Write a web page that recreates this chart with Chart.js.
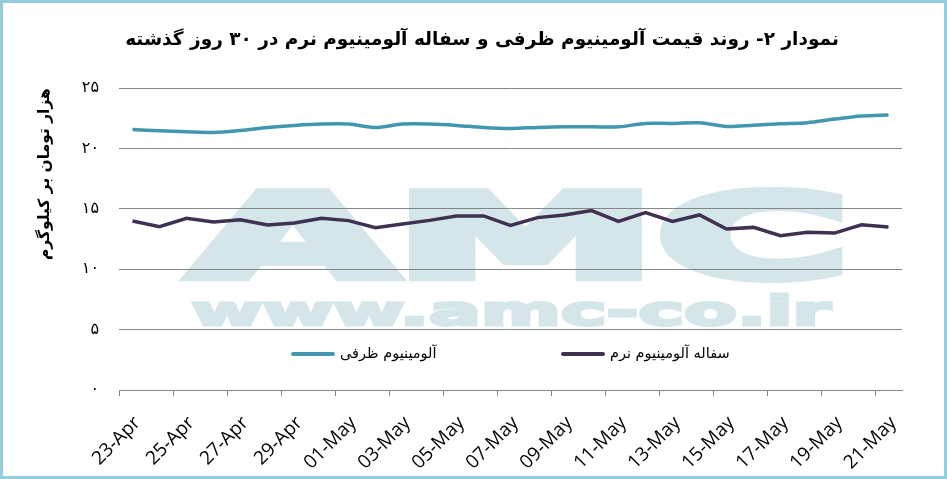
<!DOCTYPE html>
<html lang="fa">
<head>
<meta charset="UTF-8">
<title>روند قیمت آلومینیوم</title>
<script src="https://cdn.jsdelivr.net/npm/chart.js"></script>
<style>
    html, body { margin: 0; padding: 0; background: #fff; }
    .frame {
        width: 947px;
        height: 479px;
        box-sizing: border-box;
        border: 3px solid #93cddd;
        background: #fff;
    }
    .frame canvas { display: block; }
</style>
</head>
<body>
<div class="frame"><canvas id="priceChart" width="941" height="473"></canvas></div>
<script>
const dates = ['23-Apr', '24-Apr', '25-Apr', '26-Apr', '27-Apr', '28-Apr', '29-Apr', '30-Apr',
    '01-May', '02-May', '03-May', '04-May', '05-May', '06-May', '07-May', '08-May', '09-May',
    '10-May', '11-May', '12-May', '13-May', '14-May', '15-May', '16-May', '17-May', '18-May',
    '19-May', '20-May', '21-May'];

// آلومینیوم ظرفی
const zarfi = [21.58, 21.47, 21.39, 21.33, 21.5, 21.75, 21.92, 22.03, 22.03, 21.75, 22.03, 22.03,
    21.92, 21.75, 21.67, 21.75, 21.8, 21.8, 21.8, 22.08, 22.08, 22.14, 21.83, 21.94, 22.05, 22.14,
    22.44, 22.69, 22.78];

// سفاله آلومینیوم نرم
const sofale = [14.0, 13.53, 14.22, 13.92, 14.11, 13.67, 13.83, 14.22, 14.03, 13.44, 13.75, 14.05,
    14.42, 14.42, 13.64, 14.28, 14.5, 14.86, 13.97, 14.69, 13.97, 14.5, 13.33, 13.47, 12.78, 13.06,
    13.0, 13.69, 13.5];

const yTickLabels = ['۰', '۵', '۱۰', '۱۵', '۲۰', '۲۵'];

const seriesNames = ['آلومینیوم ظرفی', 'سفاله آلومینیوم نرم'];
const seriesColors = ['#4297ae', '#3f3152'];

const GRID = '#868686';
const FA_FONT = 'DejaVu Sans';

// متن کم‌رنگ را در یک کادر مشخص جا می‌دهد (با خط دور برای ضخیم‌تر شدن)
function fitText(ctx, text, font, x, baseline, width, height, stroke, refGlyph) {
    ctx.font = font;
    const m = ctx.measureText(text);
    const w = m.actualBoundingBoxLeft + m.actualBoundingBoxRight;
    const h = ctx.measureText(refGlyph || text).actualBoundingBoxAscent;
    const sx = (width - stroke) / w;
    const sy = (height - stroke) / h;
    ctx.save();
    ctx.translate(x + stroke / 2, baseline - stroke / 2);
    ctx.scale(sx, sy);
    ctx.lineWidth = stroke / ((sx + sy) / 2);
    ctx.lineJoin = 'miter';
    ctx.miterLimit = 3;
    ctx.strokeText(text, m.actualBoundingBoxLeft, 0);
    ctx.fillText(text, m.actualBoundingBoxLeft, 0);
    ctx.restore();
}

// لوگوی کم‌رنگ پشت نمودار
const watermark = {
    id: 'watermark',
    beforeDraw(chart) {
        const ctx = chart.ctx;
        ctx.save();
        ctx.fillStyle = '#d5e6eb';
        ctx.strokeStyle = '#d5e6eb';
        ctx.textAlign = 'left';
        ctx.textBaseline = 'alphabetic';
        fitText(ctx, 'AMC', 'bold 120px "DejaVu Sans"', 181, 281, 657, 100, 14);
        fitText(ctx, 'www.amc-co.ir', 'bold 50px "DejaVu Sans"', 188, 324, 642, 26, 4, 'x');
        ctx.restore();
    }
};

// راهنمای داخل نمودار
const insideLegend = {
    id: 'insideLegend',
    afterDatasetsDraw(chart) {
        const ctx = chart.ctx;
        const y = chart.chartArea.bottom - 36;
        const starts = [290, 560];
        ctx.save();
        ctx.font = '14.5px "' + FA_FONT + '"';
        ctx.textBaseline = 'middle';
        ctx.textAlign = 'left';
        chart.data.datasets.forEach((ds, i) => {
            const x = starts[i];
            ctx.strokeStyle = ds.borderColor;
            ctx.lineWidth = 4;
            ctx.lineCap = 'round';
            ctx.beginPath();
            ctx.moveTo(x, y);
            ctx.lineTo(x + 40, y);
            ctx.stroke();
            ctx.fillStyle = '#000';
            ctx.fillText(ds.label, x + 47, y);
        });
        ctx.restore();
    }
};

new Chart(document.getElementById('priceChart'), {
    type: 'line',
    data: {
        labels: dates,
        datasets: [
            {
                label: seriesNames[0],
                data: zarfi,
                borderColor: seriesColors[0],
                backgroundColor: seriesColors[0],
                borderWidth: 3.5,
                pointRadius: 0,
                tension: 0.3
            },
            {
                label: seriesNames[1],
                data: sofale,
                borderColor: seriesColors[1],
                backgroundColor: seriesColors[1],
                borderWidth: 3.5,
                pointRadius: 0,
                tension: 0
            }
        ]
    },
    options: {
        responsive: false,
        animation: false,
        layout: { padding: { left: 17, right: 0, top: 0, bottom: 0 } },
        plugins: {
            legend: { display: false },
            tooltip: { enabled: false },
            title: {
                display: true,
                text: 'نمودار ۲- روند قیمت آلومینیوم ظرفی و سفاله آلومینیوم نرم در ۳۰ روز گذشته',
                color: '#000',
                font: { family: FA_FONT, weight: 'bold', size: 18.5 },
                padding: { top: 26, bottom: 37 }
            }
        },
        scales: {
            x: {
                offset: true,
                grid: {
                    offset: true,
                    drawOnChartArea: false,
                    drawTicks: true,
                    tickLength: 6,
                    color: c => c.index % 2 === 0 ? GRID : 'rgba(0,0,0,0)'
                },
                border: { display: true, color: GRID },
                ticks: {
                    autoSkip: false,
                    maxRotation: 45,
                    minRotation: 45,
                    padding: 16,
                    labelOffset: 5,
                    color: '#000',
                    font: { family: 'Open Sans', size: 19 },
                    callback: (v, i) => i % 2 === 0 ? dates[i] : ''
                },
                afterFit: s => { s.height = 86; }
            },
            y: {
                min: 0,
                max: 25,
                grid: { color: GRID, drawTicks: false },
                border: { display: false },
                ticks: {
                    stepSize: 5,
                    padding: 20,
                    color: '#000',
                    font: { family: FA_FONT, size: 16 },
                    callback: (v, i) => yTickLabels[i]
                },
                title: {
                    display: true,
                    text: 'هزار تومان بر کیلوگرم',
                    align: 'end',
                    color: '#000',
                    font: { family: FA_FONT, weight: 'bold', size: 15.5 },
                    padding: { top: 16, bottom: 0 }
                },
                afterFit: s => { s.width = 99; }
            },
            // فاصله‌ی خالی سمت راست ناحیه‌ی نمودار
            yGap: {
                type: 'linear',
                position: 'right',
                grid: { display: false },
                border: { display: false },
                ticks: { display: false },
                afterFit: s => { s.width = 42; }
            }
        }
    },
    plugins: [watermark, insideLegend]
});
</script>
</body>
</html>
